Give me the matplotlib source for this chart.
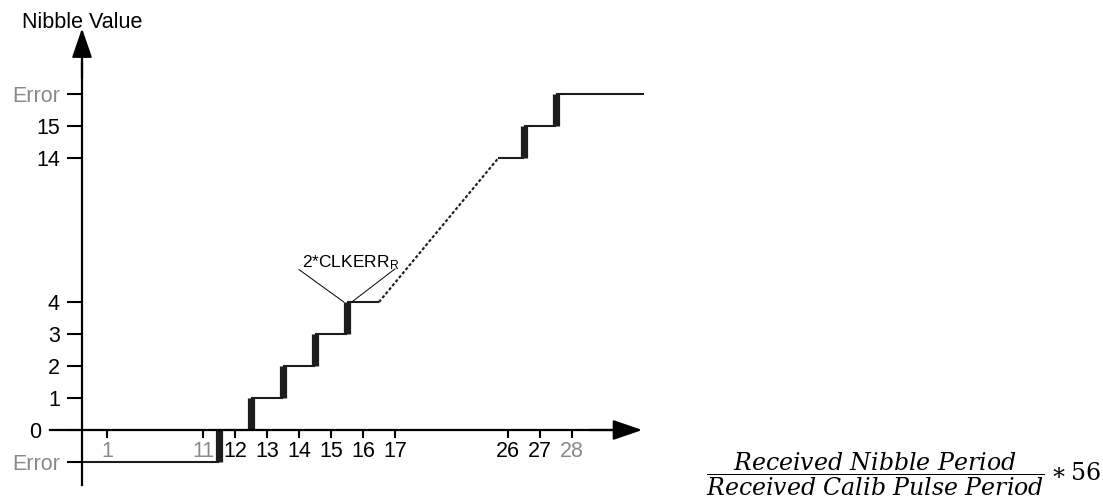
import numpy as np
import matplotlib
matplotlib.use('Agg')
import matplotlib.pyplot as plt

plt.rcParams['font.family'] = ['Liberation Sans', 'DejaVu Sans']
plt.rcParams['mathtext.fontset'] = 'dejavuserif'

# --- data -------------------------------------------------------------
x_ticks = [1, 11, 12, 13, 14, 15, 16, 17, 26, 27, 28]
x_labels = ['1', '11', '12', '13', '14', '15', '16', '17', '26', '27', '28']
x_gray = ['1', '11', '28']

y_ticks = [-1, 0, 1, 2, 3, 4, 14, 15, 16]
# "0" sits further left, where the x axis line runs past the y axis
y_labels = ['Error', '0   ', '1', '2', '3', '4', '14', '15', 'Error']
y_gray = [0, 8]  # index of the two "Error" labels

# step curve (nibble period ratio -> nibble value), low part and high part
lo_edges = [0, 11.5, 12.5, 13.5, 14.5, 15.5, 16.5]
lo_levels = [-1, 0, 1, 2, 3, 4]
hi_edges = [25.7, 26.5, 27.5, 32]
hi_levels = [14, 15, 16]

# callout for 2*CLKERR_R
callout_text = (15.6, 6.75)
callout_from = [(14.0, 6.25), (17.0, 6.3)]
callout_to = [(15.4, 4), (15.65, 4)]

# --- broken (piecewise) scales, value -> pixel ------------------------
xb_val = [-4, 0, 1, 11, 12, 17, 25, 28, 32, 60]
xb_pix = [-18, 82, 107, 203, 235, 395, 476, 572, 644, 1148]
yb_val = [-3, -1, 0, 4, 14, 16, 20]
yb_pix = [-23, 41, 73, 201, 345, 409, 537]


def xf(v):
    return np.interp(v, xb_val, xb_pix)


def xi(p):
    return np.interp(p, xb_pix, xb_val)


def yf(v):
    return np.interp(v, yb_val, yb_pix)


def yi(p):
    return np.interp(p, yb_pix, yb_val)


W, H = 1103, 503
fig = plt.figure(figsize=(W / 100, H / 100), dpi=100)
ax = fig.add_axes([0, 0, 1, 1])
ax.set_xscale('function', functions=(xf, xi))
ax.set_yscale('function', functions=(yf, yi))
ax.set_xlim(xi(0), xi(W))
ax.set_ylim(yi(0), yi(H))

dark = '#1c1c1c'
gray = '#8a8a8a'

# axes
for s in ['top', 'right']:
    ax.spines[s].set_visible(False)
ax.spines['left'].set_position(('data', 0))
ax.spines['bottom'].set_position(('data', 0))
ax.spines['left'].set_bounds(-1.72, 17.0)
ax.spines['bottom'].set_bounds(-1.3, 30.5)
for s in ['left', 'bottom']:
    ax.spines[s].set_linewidth(1.6)

arr = dict(arrowstyle='-|>,head_length=1.8,head_width=0.62', color='black',
           lw=1.6, mutation_scale=10, shrinkA=0, shrinkB=0)
ax.annotate('', xy=(0, 18.05), xytext=(0, 16.5), arrowprops=arr)
ax.annotate('', xy=(31.9, 0), xytext=(29, 0), arrowprops=arr)

ax.set_xticks(x_ticks)
ax.set_xticklabels(x_labels)
ax.set_yticks(y_ticks)
ax.set_yticklabels(y_labels)
ax.minorticks_off()
ax.tick_params(axis='x', direction='out', length=6, width=1.5, pad=2, labelsize=15.5)
ax.tick_params(axis='y', direction='out', length=11, width=1.5, pad=5, labelsize=15.5)
for t in ax.get_xticklabels():
    if t.get_text() in x_gray:
        t.set_color(gray)
for i, t in enumerate(ax.get_yticklabels()):
    if i in y_gray:
        t.set_color(gray)

ax.text(0, 1 - 22 / H, 'Nibble Value', transform=ax.get_xaxis_transform(),
        ha='center', va='center', fontsize=15.5)

# step curve
for edges, levels in [(lo_edges, lo_levels), (hi_edges, hi_levels)]:
    ax.hlines(levels, edges[:-1], edges[1:], color=dark, lw=1.5)
    ax.vlines(edges[1:-1], levels[:-1], levels[1:], color=dark, lw=5.2)
ax.plot([lo_edges[-1], hi_edges[0]], [lo_levels[-1], hi_levels[0]],
        color=dark, lw=1.5, ls=(0, (1.5, 1)))

# callout
for (x0, y0), (x1, y1) in zip(callout_from, callout_to):
    ax.plot([x0, x1], [y0, y1], color='black', lw=0.7)
ax.text(*callout_text, r'2*CLKERR$_\mathregular{R}$', ha='center', va='center',
        fontsize=12.5)

fig.text(706 / W, 1 - 474 / H,
         r'$\dfrac{Received\ Nibble\ Period}{Received\ Calib\ Pulse\ Period}\ast 56$',
         ha='left', va='center', fontsize=17)

fig.savefig('out.png', dpi=100)
